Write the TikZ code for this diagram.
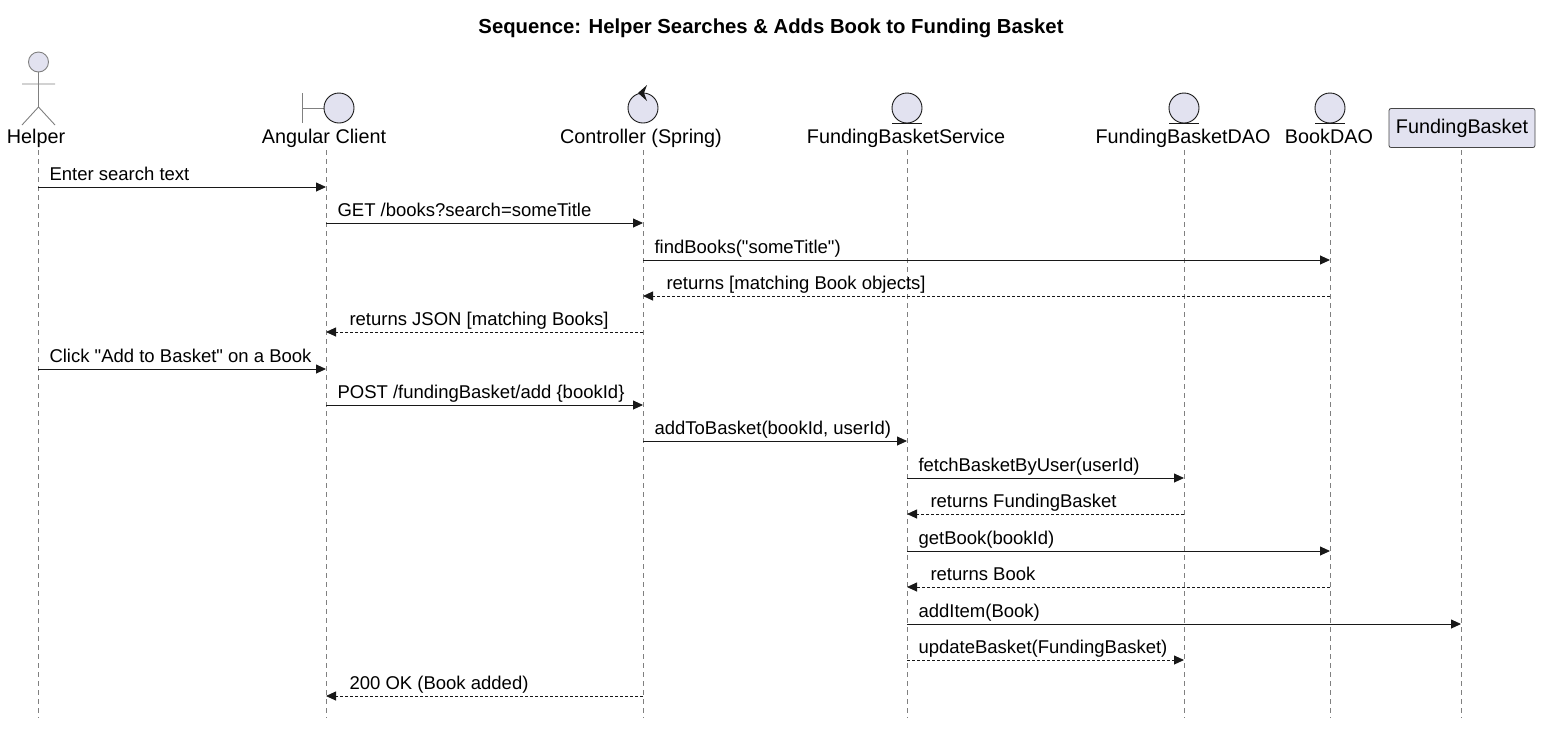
\documentclass[tikz,border=0pt]{standalone}
\usepackage{fontspec}
\setmainfont{Liberation Sans}[Ligatures=TeXOff]
\usetikzlibrary{arrows.meta}
\definecolor{pfill}{HTML}{E2E2F0}
\definecolor{pline}{HTML}{181818}
\begin{document}
\begin{tikzpicture}[x=1pt,y=-1pt,
 life/.style={gray,dash pattern=on 5pt off 4pt,line width=0.8pt},
 icon/.style={draw=pline,fill=pfill,line width=0.9pt},
 pl/.style={font=\fontsize{19.8}{22}\selectfont,anchor=base},
 ml/.style={font=\fontsize{18.5}{21}\selectfont,anchor=base west},
 msg/.style={-{Triangle[length=10pt,width=9pt]},line width=0.9pt,draw=pline},
 ret/.style={msg,dash pattern=on 3pt off 2pt}]
\useasboundingbox (0,0) rectangle (1542,732);
\node[font=\bfseries\fontsize{20.3}{23}\selectfont] (title) at (771,28) {Sequence: Helper Searches \& Adds Book to Funding Basket};
% lifelines
\foreach \n/\x in {h/38,a/326,c/643,s/907,d/1184,b/1330,f/1461}{
  \coordinate (\n t) at (\x,150); \coordinate (\n b) at (\x,718);
  \draw[life] (\n t) -- (\n b);}
% actor
\draw[icon,draw=gray] (38.5,62) circle (10);
\draw[gray,line width=0.9pt] (38.5,72) -- (38.5,107) (22,84) -- (55,84) (38.5,107) -- (22,125) (38.5,107) -- (55,125);
\node[pl] (hl) at (36,143) {Helper};
% boundary
\draw[gray,line width=0.9pt] (302,93) -- (302,123) (302,108) -- (324,108);
\draw[icon] (339,108) circle (15);
\node[pl] (al) at (324,143) {Angular Client};
% control
\draw[icon] (643,108) circle (15);
\fill[pline] (638,93) -- (647,85) -- (644,93) -- (647,101) -- cycle;
\node[pl] (cl) at (641,143) {Controller (Spring)};
% entities
\foreach \x/\lab/\n in {907/FundingBasketService/sl,1184/FundingBasketDAO/dl,1330/BookDAO/bl}{
  \draw[icon] (\x,108) circle (15);
  \draw[pline,line width=0.9pt] (\x-15,123) -- (\x+15,123);
  \node[pl] (\n) at (\x-1,143) {\lab};}
\node[draw=pline!80,fill=pfill,rounded corners=2pt,line width=0.8pt,minimum width=146pt,minimum height=39pt,font=\fontsize{19.8}{22}\selectfont] (fl) at (1462,128) {FundingBasket};
% messages
\newcommand\mymsg[5]{\coordinate (m#1s) at (#2,#4); \coordinate (m#1e) at (#3,#4);
  \draw[#5] (m#1s) -- (m#1e);}
\newcommand\lbl[3]{\node[ml] at (#1,#2-7) {#3};}
\mymsg{1}{38}{326}{187}{msg}\lbl{46}{187}{Enter search text}
\mymsg{2}{326}{643}{223}{msg}\lbl{334}{223}{GET /books?search=someTitle}
\mymsg{3}{643}{1330}{260}{msg}\lbl{651}{260}{findBooks("someTitle")}
\mymsg{4}{1330}{643}{296}{ret}\lbl{663}{296}{returns [matching Book objects]}
\mymsg{5}{643}{326}{332}{ret}\lbl{346}{332}{returns JSON [matching Books]}
\mymsg{6}{38}{326}{369}{msg}\lbl{46}{369}{Click "Add to Basket" on a Book}
\mymsg{7}{326}{643}{405}{msg}\lbl{334}{405}{POST /fundingBasket/add \{bookId\}}
\mymsg{8}{643}{907}{441}{msg}\lbl{651}{441}{addToBasket(bookId, userId)}
\mymsg{9}{907}{1184}{478}{msg}\lbl{915}{478}{fetchBasketByUser(userId)}
\mymsg{10}{1184}{907}{514}{ret}\lbl{927}{514}{returns FundingBasket}
\mymsg{11}{907}{1330}{551}{msg}\lbl{915}{551}{getBook(bookId)}
\mymsg{12}{1330}{907}{587}{ret}\lbl{927}{587}{returns Book}
\mymsg{13}{907}{1461}{624}{msg}\lbl{915}{624}{addItem(Book)}
\mymsg{14}{907}{1184}{660}{ret}\lbl{915}{660}{updateBasket(FundingBasket)}
\mymsg{15}{643}{326}{696}{ret}\lbl{346}{696}{200 OK (Book added)}
\end{tikzpicture}
\end{document}
